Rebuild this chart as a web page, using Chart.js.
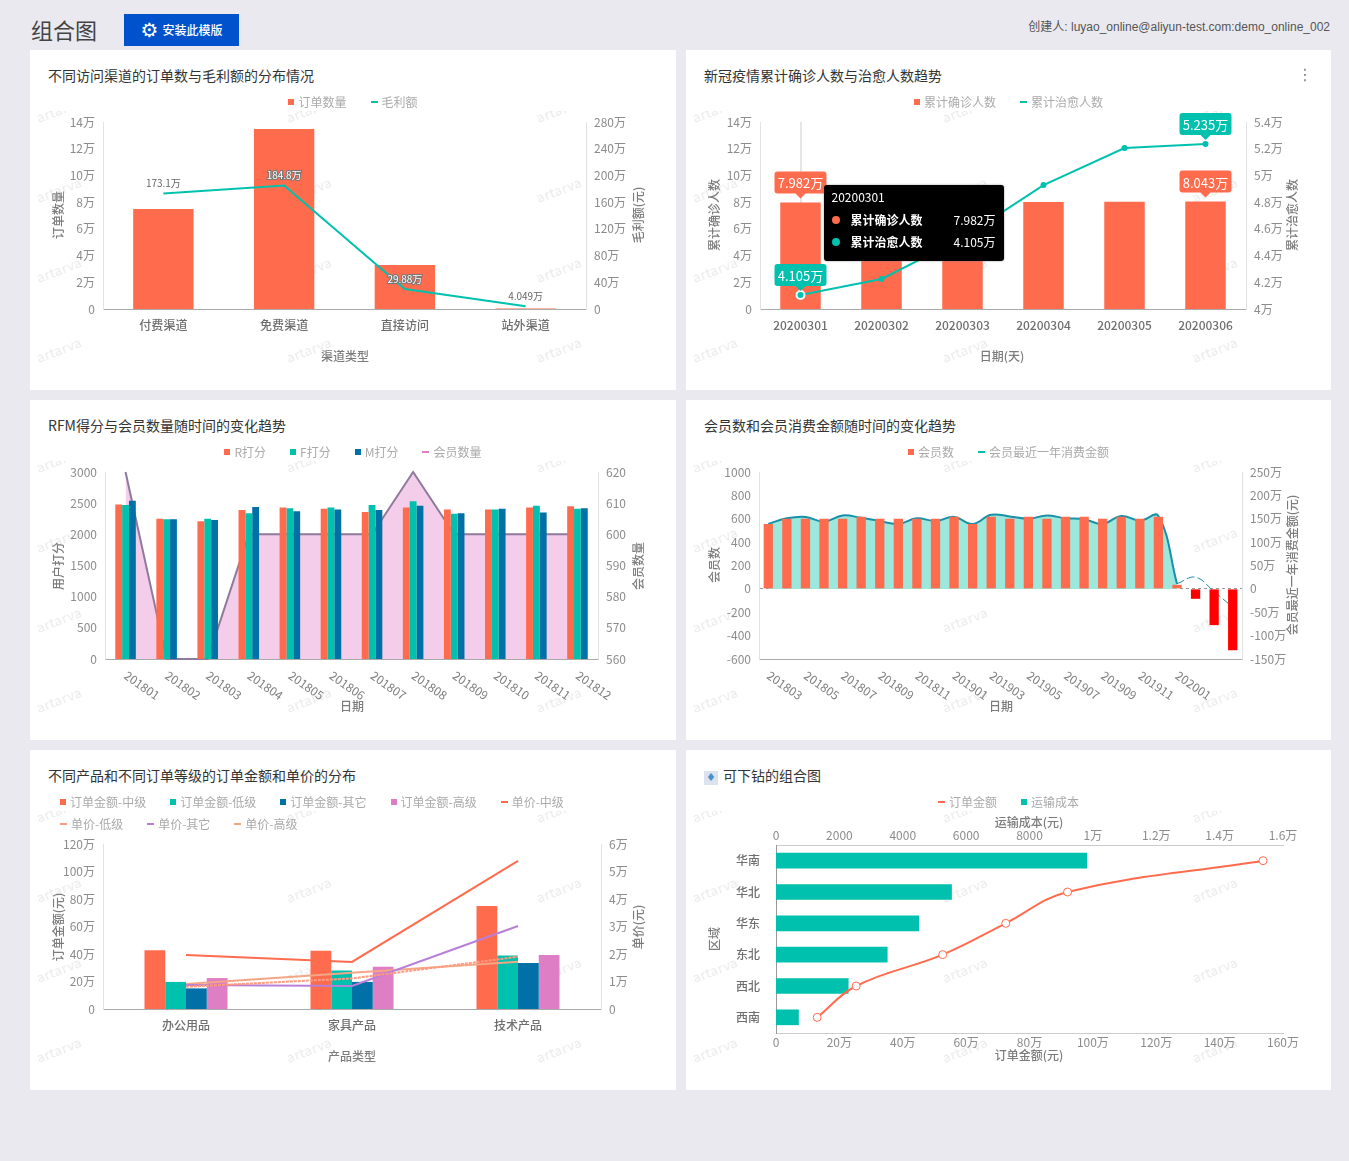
<!DOCTYPE html>
<html>
<head>
<meta charset="utf-8">
<title>组合图</title>
<script src="https://cdn.jsdelivr.net/npm/chart.js@4/dist/chart.umd.min.js"></script>
<style>
  html, body { margin: 0; padding: 0; height: 1161px; overflow: hidden; background: #ebe9f0; font-family: "Noto Sans CJK SC", "Noto Sans", sans-serif; }
  #head { position: absolute; left: 31px; top: 13px; font-size: 22px; line-height: 33px; color: #444; }
  #install { position: absolute; left: 124px; top: 14px; width: 115px; height: 32px; line-height: 32px; background: #0052cc; color: #fff; font-size: 12px; font-weight: 500; text-align: center; }
  #install i { font-style: normal; font-family: "DejaVu Sans"; font-size: 20px; vertical-align: -2px; margin-right: 4px; }
  #creator { position: absolute; right: 19px; top: 18px; font-family: "Liberation Sans", "Noto Sans CJK SC", sans-serif; font-size: 12px; line-height: 18px; color: #555; }
  .card { position: absolute; background: #fff; height: 340px; }
  .card canvas { position: absolute; left: 0; top: 0; }
  .title { position: absolute; left: 18px; top: 15px; font-size: 14px; line-height: 20px; color: #333; white-space: nowrap; }
  .title b { display: inline-block; width: 14px; height: 14px; margin-right: 5px; background: #dde3ee; color: #4a90c8; font: 11px/14px "DejaVu Sans"; text-align: center; vertical-align: 0; }
  .more { position: absolute; right: 18px; top: 12px; font: 16px/26px "DejaVu Sans"; color: #888; }
  .marks { position: absolute; left: 0; top: 61px; right: 0; height: 279px; overflow: hidden; }
  .marks span { position: absolute; font-size: 13px; line-height: 16px; letter-spacing: 0.5px; color: #ececec; transform: translate(-50%, -50%) rotate(-21deg); }
  .legend { position: absolute; left: 0; right: 0; top: 43px; display: flex; flex-wrap: wrap; font-size: 12px; line-height: 18px; color: #aaa; }
  .legend div { display: flex; align-items: center; white-space: nowrap; }
  .legend s { display: block; margin-right: 4px; }
  .tip { position: absolute; width: 180px; height: 76px; background: #000; border-radius: 3px; color: #fff; font-size: 12px; box-shadow: 0 0 2px #888; }
  .tip p { margin: 0; position: absolute; left: 8px; right: 8px; line-height: 18px; display: flex; align-items: center; }
  .tip em { display: block; width: 8px; height: 8px; border-radius: 50%; margin-right: 11px; }
  .tip u { text-decoration: none; font-weight: 700; flex: 1; }
</style>
</head>
<body>
<div id="head">组合图</div>
<div id="install"><i>⚙</i>安装此模版</div>
<div id="creator">创建人: luyao_online@aliyun-test.com:demo_online_002</div>
<div id="grid"></div>
<script>
const CORAL = '#ff6b4d', TEAL = '#00c1ae', BLUE = '#0070a6', PINK = '#de7fc6';

// 渠道
const channels = ['付费渠道', '免费渠道', '直接访问', '站外渠道'];
const channelOrders = [74900, 134800, 32900, 300];
const channelProfit = [1731000, 1848000, 298800, 40490];

// 疫情
const covidDays = ['20200301', '20200302', '20200303', '20200304', '20200305', '20200306'];
const covidConfirmed = [79820, 80000, 80100, 80200, 80300, 80430];
const covidCured = [41050, 42250, 45300, 49280, 52050, 52350];

// RFM
const rfmMonths = ['201801', '201802', '201803', '201804', '201805', '201806', '201807', '201808', '201809', '201810', '201811', '201812'];
const rScore = [2480, 2250, 2210, 2390, 2430, 2410, 2360, 2430, 2400, 2400, 2430, 2450];
const fScore = [2470, 2240, 2250, 2340, 2420, 2430, 2470, 2530, 2330, 2400, 2460, 2410];
const mScore = [2540, 2240, 2230, 2440, 2370, 2400, 2390, 2460, 2340, 2410, 2350, 2420];
const rfmMembers = [620, 560, 560, 600, 600, 600, 600, 620, 600, 600, 600, 600];

// 会员
const memberMonths = ['201803', '201804', '201805', '201806', '201807', '201808', '201809', '201810', '201811', '201812',
  '201901', '201902', '201903', '201904', '201905', '201906', '201907', '201908', '201909', '201910', '201911', '201912',
  '202001', '202002', '202003', '202004'];
const memberCount = [555, 600, 600, 600, 600, 617, 600, 600, 600, 600, 617, 555, 617, 600, 617, 600, 617, 617, 600, 617, 600, 617, 35, -85, -310, -525];
const memberAmount = [1390000, 1510000, 1540000, 1440000, 1570000, 1520000, 1450000, 1390000, 1510000, 1450000, 1540000, 1390000, 1585000,
  1550000, 1500000, 1570000, 1510000, 1490000, 1390000, 1560000, 1460000, 1560000, 110000, 250000, -60000, -390000];

// 产品
const products = ['办公用品', '家具产品', '技术产品'];
const amountMid = [427000, 424000, 750000];
const amountLow = [197000, 280000, 390000];
const amountOther = [150000, 197000, 335000];
const amountHigh = [225000, 308000, 392000];
const priceMid = [19600, 17100, 53900];
const priceLow = [8100, 11100, 19000];
const priceOther = [8700, 8400, 30200];
const priceHigh = [9100, 13200, 17200];

// 区域
const regions = ['华南', '华北', '华东', '东北', '西北', '西南'];
const regionAmount = [1537000, 920000, 725000, 526000, 253000, 130000];
const regionCost = [9817, 5550, 4516, 3521, 2290, 720];

Chart.defaults.font.family = '"Noto Sans CJK SC", "Noto Sans", sans-serif';
Chart.defaults.font.size = 12;
Chart.defaults.color = '#8c8c8c';
Chart.defaults.animation = false;

function wan(v) {
  if (Math.abs(v) >= 10000) {
    return parseFloat((v / 10000).toFixed(3)) + '万';
  }
  return String(v);
}

// keeps the plot where the reference has it, whatever the labels measure
function fixed(size) {
  return (scale) => {
    if (scale.isHorizontal()) { scale.height = size; } else { scale.width = size; }
  };
}

function valueAxis(position, min, max, step, size, useWan) {
  return {
    position: position, min: min, max: max, afterFit: fixed(size),
    grid: { display: false, drawTicks: false },
    border: { color: '#e2e2e2' },
    ticks: { stepSize: step, padding: 8, color: '#8c8c8c', callback: useWan ? wan : (v) => v }
  };
}

function categoryAxis(size, hideTicks) {
  return {
    afterFit: fixed(size),
    grid: { display: false, drawTicks: false },
    border: { color: '#aaa' },
    ticks: { display: !hideTicks, padding: 9, color: '#6e6e6e', font: { weight: '500' }, maxRotation: 0, autoSkip: false }
  };
}

function barSet(label, data, color, axis, catPct, barPct) {
  return { type: 'bar', label: label, data: data, backgroundColor: color, yAxisID: axis, order: 1, categoryPercentage: catPct, barPercentage: barPct };
}

function lineSet(label, data, color, axis, extra) {
  return Object.assign({ type: 'line', label: label, data: data, borderColor: color, backgroundColor: color, borderWidth: 2, pointRadius: 0, yAxisID: axis, order: 0 }, extra || {});
}

// axis names, drawn by hand because the right side ones read bottom to top here
const axisNames = {
  id: 'axisNames',
  afterDraw(chart, args, opts) {
    const ctx = chart.ctx;
    (opts.list || []).forEach((t) => {
      ctx.save();
      ctx.translate(t.x, t.y);
      if (t.up) { ctx.rotate(-Math.PI / 2); }
      ctx.font = '500 12px ' + Chart.defaults.font.family;
      ctx.fillStyle = '#7c7c7c';
      ctx.textAlign = 'center';
      ctx.textBaseline = 'middle';
      ctx.fillText(t.text, 0, 0);
      ctx.restore();
    });
  }
};

// x labels that lean down to the right, chart.js only right aligns rotated ticks
const leaningTicks = {
  id: 'leaningTicks',
  afterDraw(chart, args, opts) {
    if (!opts.every) { return; }
    const ctx = chart.ctx, scale = chart.scales.x;
    chart.data.labels.forEach((label, i) => {
      if (i % opts.every || i > opts.last) { return; }
      ctx.save();
      ctx.translate(scale.getPixelForValue(i), scale.top + 15);
      ctx.rotate(35 * Math.PI / 180);
      ctx.font = '12px ' + Chart.defaults.font.family;
      ctx.fillStyle = '#808080';
      ctx.textBaseline = 'middle';
      ctx.fillText(label, 0, 0);
      ctx.restore();
    });
  }
};

// value labels of the profit line
const pointLabels = {
  id: 'pointLabels',
  afterDatasetsDraw(chart, args, opts) {
    if (!opts.dataset && opts.dataset !== 0) { return; }
    const ctx = chart.ctx, meta = chart.getDatasetMeta(opts.dataset), data = chart.data.datasets[opts.dataset].data;
    meta.data.forEach((pt, i) => {
      ctx.save();
      ctx.font = '10px ' + Chart.defaults.font.family;
      ctx.textAlign = 'center';
      ctx.textBaseline = 'middle';
      if (opts.halo.includes(i)) {
        ctx.strokeStyle = '#777';
        ctx.lineWidth = 2;
        ctx.strokeText(wan(data[i]), pt.x, pt.y - 10);
        ctx.fillStyle = '#fff';
      } else {
        ctx.fillStyle = '#666';
      }
      ctx.fillText(wan(data[i]), pt.x, pt.y - 10);
      ctx.restore();
    });
  }
};

// callouts on first and last values, plus the hover line
const pins = {
  id: 'pins',
  beforeDatasetsDraw(chart, args, opts) {
    if (opts.cross === undefined) { return; }
    const ctx = chart.ctx, x = chart.scales.x.getPixelForValue(opts.cross);
    ctx.save();
    ctx.strokeStyle = '#ccc';
    ctx.beginPath();
    ctx.moveTo(x + 0.5, chart.chartArea.top);
    ctx.lineTo(x + 0.5, chart.chartArea.bottom);
    ctx.stroke();
    ctx.restore();
  },
  afterDatasetsDraw(chart, args, opts) {
    const ctx = chart.ctx;
    (opts.list || []).forEach((p) => {
      const ds = chart.data.datasets[p.ds], pt = chart.getDatasetMeta(p.ds).data[p.i];
      const tip = pt.y - 5, w = 52, h = 22;
      ctx.save();
      ctx.fillStyle = ds.backgroundColor;
      ctx.beginPath();
      ctx.roundRect(pt.x - w / 2, tip - 4 - h, w, h, 3);
      ctx.moveTo(pt.x - 5, tip - 4);
      ctx.lineTo(pt.x + 5, tip - 4);
      ctx.lineTo(pt.x, tip + 1);
      ctx.fill();
      ctx.fillStyle = '#fff';
      ctx.font = '13px ' + Chart.defaults.font.family;
      ctx.textAlign = 'center';
      ctx.textBaseline = 'middle';
      ctx.fillText(wan(ds.data[p.i]), pt.x, tip - 4 - h / 2 + 1);
      ctx.restore();
    });
  }
};

Chart.register(axisNames, leaningTicks, pointLabels, pins);

function htmlLegend(card, chart, opts) {
  const box = document.createElement('div');
  box.className = 'legend';
  box.style.justifyContent = opts.left ? 'flex-start' : 'center';
  if (opts.left) { box.style.paddingLeft = opts.left + 'px'; box.style.paddingRight = '80px'; box.style.rowGap = '4px'; }
  chart.data.datasets.forEach((ds) => {
    if (ds.hideInLegend) { return; }
    const item = document.createElement('div');
    const mark = document.createElement('s');
    const isLine = ds.type === 'line';
    mark.style.width = (isLine ? 7 : 6) + 'px';
    mark.style.height = (isLine ? 2 : 6) + 'px';
    mark.style.background = ds.legendColor || ds.backgroundColor;
    item.appendChild(mark);
    item.appendChild(document.createTextNode(ds.label));
    item.style.marginRight = opts.left ? '24px' : '12px';
    item.style.marginLeft = opts.left ? '0' : '12px';
    box.appendChild(item);
  });
  card.appendChild(box);
}

function makeCard(left, top, width, title, icon) {
  const card = document.createElement('div');
  card.className = 'card';
  card.style.left = left + 'px';
  card.style.top = top + 'px';
  card.style.width = width + 'px';

  const marks = document.createElement('div');
  marks.className = 'marks';
  [29, 279, 529].forEach((x) => {
    [-1, 79, 159, 239].forEach((y) => {
      const s = document.createElement('span');
      s.textContent = 'artarva';
      s.style.left = x + 'px';
      s.style.top = y + 'px';
      marks.appendChild(s);
    });
  });
  card.appendChild(marks);

  const t = document.createElement('div');
  t.className = 'title';
  t.innerHTML = (icon ? '<b>♦</b>' : '') + title;
  card.appendChild(t);

  const canvas = document.createElement('canvas');
  canvas.width = width;
  canvas.height = 340;
  card.appendChild(canvas);
  document.getElementById('grid').appendChild(card);
  return { card: card, canvas: canvas };
}

function baseOptions(paddingTop, scales, plugins) {
  return {
    responsive: false,
    events: [],
    layout: { autoPadding: false, padding: { top: paddingTop, left: 0, right: 0, bottom: 0 } },
    scales: scales,
    plugins: Object.assign({ legend: { display: false }, tooltip: { enabled: false } }, plugins)
  };
}

// 1 ---------------------------------------------------------------
const c1 = makeCard(30, 50, 646, '不同访问渠道的订单数与毛利额的分布情况');
const chart1 = new Chart(c1.canvas, {
  data: {
    labels: channels,
    datasets: [
      barSet('订单数量', channelOrders, CORAL, 'y', 1, 0.5),
      lineSet('毛利额', channelProfit, TEAL, 'y1')
    ]
  },
  options: baseOptions(72, {
    x: categoryAxis(81),
    y: valueAxis('left', 0, 140000, 20000, 73, true),
    y1: valueAxis('right', 0, 2800000, 400000, 90, true)
  }, {
    pointLabels: { dataset: 1, halo: [1, 2] },
    axisNames: { list: [
      { text: '订单数量', x: 28, y: 165, up: true },
      { text: '毛利额(元)', x: 608, y: 165, up: true },
      { text: '渠道类型', x: 315, y: 306 }
    ] }
  })
});
htmlLegend(c1.card, chart1, {});

// 2 ---------------------------------------------------------------
const c2 = makeCard(686, 50, 645, '新冠疫情累计确诊人数与治愈人数趋势');
const more = document.createElement('div');
more.className = 'more';
more.textContent = '⋮';
c2.card.appendChild(more);
const chart2 = new Chart(c2.canvas, {
  data: {
    labels: covidDays,
    datasets: [
      barSet('累计确诊人数', covidConfirmed, CORAL, 'y', 1, 0.5),
      lineSet('累计治愈人数', covidCured, TEAL, 'y1', {
        pointRadius: (c) => c.dataIndex === 0 ? 4 : 3,
        pointBorderWidth: (c) => c.dataIndex === 0 ? 2 : 0,
        pointBorderColor: '#fff'
      })
    ]
  },
  options: baseOptions(72, {
    x: categoryAxis(81),
    y: valueAxis('left', 0, 140000, 20000, 74, true),
    y1: valueAxis('right', 40000, 54000, 2000, 85, true)
  }, {
    pins: { cross: 0, list: [{ ds: 0, i: 0 }, { ds: 0, i: 5 }, { ds: 1, i: 0 }, { ds: 1, i: 5 }] },
    axisNames: { list: [
      { text: '累计确诊人数', x: 28, y: 165, up: true },
      { text: '累计治愈人数', x: 606, y: 165, up: true },
      { text: '日期(天)', x: 316, y: 306 }
    ] },
    tooltip: {
      enabled: false,
      external: (ctx) => {
        const t = ctx.tooltip;
        if (!t.dataPoints || !t.dataPoints.length) { return; }
        const tip = document.createElement('div');
        tip.className = 'tip';
        tip.style.left = (t.caretX + 23) + 'px';
        tip.style.top = (ctx.chart.chartArea.top + 63) + 'px';
        let html = '<p style="top:3px">' + t.dataPoints[0].label + '</p>';
        t.dataPoints.forEach((dp, i) => {
          html += '<p style="top:' + (26 + i * 22) + 'px"><em style="background:' + dp.dataset.backgroundColor + '"></em><u>' +
            dp.dataset.label + '</u>' + wan(dp.raw) + '</p>';
        });
        tip.innerHTML = html;
        c2.card.appendChild(tip);
      }
    }
  })
});
htmlLegend(c2.card, chart2, {});
chart2.tooltip.setActiveElements([{ datasetIndex: 0, index: 0 }, { datasetIndex: 1, index: 0 }], { x: 0, y: 0 });

// 3 ---------------------------------------------------------------
const c3 = makeCard(30, 400, 646, 'RFM得分与会员数量随时间的变化趋势');
const chart3 = new Chart(c3.canvas, {
  data: {
    labels: rfmMonths,
    datasets: [
      barSet('R打分', rScore, CORAL, 'y', 0.5, 1),
      barSet('F打分', fScore, TEAL, 'y', 0.5, 1),
      barSet('M打分', mScore, BLUE, 'y', 0.5, 1),
      lineSet('会员数量', rfmMembers, '#8e7a9c', 'y1', { fill: 'start', backgroundColor: '#f3cde9', legendColor: PINK, order: 2, clip: false })
    ]
  },
  options: baseOptions(72, {
    x: categoryAxis(81, true),
    y: valueAxis('left', 0, 3000, 500, 75),
    y1: valueAxis('right', 560, 620, 10, 78)
  }, {
    leaningTicks: { every: 1, last: 11 },
    axisNames: { list: [
      { text: '用户打分', x: 28, y: 166, up: true },
      { text: '会员数量', x: 608, y: 166, up: true },
      { text: '日期', x: 322, y: 306 }
    ] }
  })
});
htmlLegend(c3.card, chart3, {});

// 4 ---------------------------------------------------------------
const c4 = makeCard(686, 400, 645, '会员数和会员消费金额随时间的变化趋势');
const options4 = baseOptions(72, {
  x: categoryAxis(81, true),
  y: valueAxis('left', -600, 1000, 200, 73),
  y1: valueAxis('right', -1500000, 2500000, 500000, 89, true)
}, {
  leaningTicks: { every: 2, last: 22 },
  axisNames: { list: [
    { text: '会员数', x: 28, y: 165, up: true },
    { text: '会员最近一年消费金额(元)', x: 606, y: 165, up: true },
    { text: '日期', x: 315, y: 306 }
  ] }
});
// dashed zero line
options4.scales.y.grid = { display: true, drawTicks: false, color: (c) => c.tick.value === 0 ? '#999' : 'transparent' };
options4.scales.y.border = { color: '#e2e2e2', dash: [3, 3] };
const chart4 = new Chart(c4.canvas, {
  data: {
    labels: memberMonths,
    datasets: [
      Object.assign(barSet('会员数', memberCount, (c) => c.raw < -50 ? '#ff0000' : CORAL, 'y', 1, 0.5), { legendColor: CORAL }),
      lineSet('会员最近一年消费金额', memberAmount.map((v, i) => i <= 22 ? v : null), '#1a8fa8', 'y1',
        { fill: { target: { value: 0 }, above: '#9ce8dc', below: '#9ce8dc' }, tension: 0.4, legendColor: TEAL, order: 2 }),
      lineSet('tail', memberAmount.map((v, i) => i >= 22 ? v : null), '#1a8fa8', 'y1',
        { borderWidth: 1, borderDash: [8, 3], tension: 0.4, hideInLegend: true, order: 2 })
    ]
  },
  options: options4
});
htmlLegend(c4.card, chart4, {});

// 5 ---------------------------------------------------------------
const c5 = makeCard(30, 750, 646, '不同产品和不同订单等级的订单金额和单价的分布');
const chart5 = new Chart(c5.canvas, {
  data: {
    labels: products,
    datasets: [
      barSet('订单金额-中级', amountMid, CORAL, 'y', 0.5, 1),
      barSet('订单金额-低级', amountLow, TEAL, 'y', 0.5, 1),
      barSet('订单金额-其它', amountOther, BLUE, 'y', 0.5, 1),
      barSet('订单金额-高级', amountHigh, PINK, 'y', 0.5, 1),
      lineSet('单价-中级', priceMid, CORAL, 'y1'),
      lineSet('单价-低级', priceLow, '#ff9b7f', 'y1', { borderDash: [3, 1] }),
      lineSet('单价-其它', priceOther, '#b87fd8', 'y1'),
      lineSet('单价-高级', priceHigh, '#f4a585', 'y1')
    ]
  },
  options: baseOptions(94, {
    x: categoryAxis(81),
    y: valueAxis('left', 0, 1200000, 200000, 73, true),
    y1: valueAxis('right', 0, 60000, 10000, 75, true)
  }, {
    axisNames: { list: [
      { text: '订单金额(元)', x: 28, y: 177, up: true },
      { text: '单价(元)', x: 608, y: 177, up: true },
      { text: '产品类型', x: 322, y: 306 }
    ] }
  })
});
htmlLegend(c5.card, chart5, { left: 30 });

// 6 ---------------------------------------------------------------
const c6 = makeCard(686, 750, 645, '可下钻的组合图', true);
const xAxis6 = valueAxis('bottom', 0, 1600000, 200000, 57, true);
xAxis6.ticks.padding = 2;
xAxis6.border.color = '#ccc';
const topAxis6 = valueAxis('top', 0, 16000, 2000, 30, true);
topAxis6.ticks.padding = 2;
topAxis6.border.color = '#ccc';
const yAxis6 = categoryAxis(90);
yAxis6.position = 'left';
yAxis6.ticks.padding = 16;
yAxis6.border.color = '#999';
const options6 = baseOptions(65, { x: xAxis6, xTop: topAxis6, y: yAxis6 }, {
  axisNames: { list: [
    { text: '区域', x: 28, y: 189, up: true },
    { text: '运输成本(元)', x: 343, y: 72 },
    { text: '订单金额(元)', x: 343, y: 305 }
  ] }
});
options6.layout.padding.right = 48;
options6.indexAxis = 'y';
const chart6 = new Chart(c6.canvas, {
  data: {
    labels: regions,
    datasets: [
      lineSet('订单金额', regionAmount, CORAL, 'y', {
        xAxisID: 'x', tension: 0.4, pointRadius: 4, pointBackgroundColor: '#fff', pointBorderColor: CORAL, pointBorderWidth: 1
      }),
      Object.assign(barSet('运输成本', regionCost, TEAL, 'y', 1, 0.5), { xAxisID: 'xTop' })
    ]
  },
  options: options6
});
htmlLegend(c6.card, chart6, {});
</script>
</body>
</html>
